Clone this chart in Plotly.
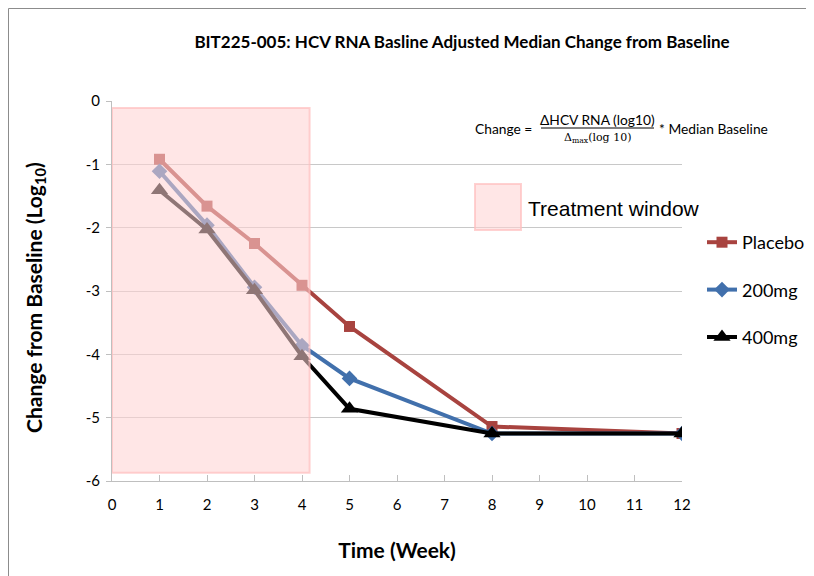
import plotly.graph_objects as go

weeks = [1, 2, 3, 4, 5, 8, 12]
placebo = [-0.92, -1.66, -2.25, -2.91, -3.56, -5.14, -5.25]
mg200 = [-1.11, -1.96, -2.94, -3.86, -4.38, -5.25, -5.25]
mg400 = [-1.41, -2.03, -2.99, -4.03, -4.86, -5.25, -5.25]
series_names = ["Placebo", "200mg", "400mg"]
x_ticks = list(range(0, 13))
y_ticks = [0, -1, -2, -3, -4, -5, -6]
window_x = [0, 4.16]
window_y = [-0.11, -5.87]

FONT = "Lato"


def px(xw):
    return (xw - 112) / 570


def py(yw):
    return (481 - yw) / 380


fig = go.Figure()
styles = [
    ("#A8433F", "square", 11),
    ("#4170AC", "diamond", 12),
    ("#000000", "triangle-up", 15),
]
for name, vals, (col, sym, sz) in zip(series_names, [placebo, mg200, mg400], styles):
    fig.add_trace(go.Scatter(
        x=weeks, y=vals, name=name, mode="lines+markers",
        line=dict(color=col, width=4),
        marker=dict(symbol=sym, size=sz, color=col),
        legendgroup=name,
    ))

# treatment window (drawn over the lines, semi-transparent)
fig.add_shape(type="rect", xref="x", yref="y",
              x0=window_x[0], x1=window_x[1], y0=window_y[0], y1=window_y[1],
              fillcolor="rgba(255,210,210,0.56)", line=dict(color="rgba(255,190,190,0.7)", width=2),
              layer="above")
# legend box for treatment window
fig.add_shape(type="rect", xref="paper", yref="paper",
              x0=px(475), x1=px(521), y0=py(230), y1=py(184),
              fillcolor="rgba(255,210,210,0.56)", line=dict(color="rgba(255,190,190,0.7)", width=2),
              layer="above")
fig.add_annotation(xref="paper", yref="paper", x=px(526), y=py(208),
                   text="Treatment window", showarrow=False, xanchor="left", yanchor="middle",
                   font=dict(family="Liberation Sans", size=21, color="#000"))

# formula
fs = 13.8
fig.add_annotation(xref="paper", yref="paper", x=px(473), y=py(128),
                   text="Change =", showarrow=False, xanchor="left", yanchor="middle",
                   font=dict(family=FONT, size=fs, color="#000"))
fig.add_annotation(xref="paper", yref="paper", x=px(597), y=py(119),
                   text="ΔHCV RNA (log10)", showarrow=False, xanchor="center", yanchor="middle",
                   font=dict(family=FONT, size=fs, color="#000"))
fig.add_shape(type="line", xref="paper", yref="paper",
              x0=px(541), x1=px(654), y0=py(128), y1=py(128),
              line=dict(color="#000", width=1))
fig.add_annotation(xref="paper", yref="paper", x=px(597), y=py(138),
                   text="Δ<sub>max</sub>(log 10)", showarrow=False, xanchor="center", yanchor="middle",
                   font=dict(family="DejaVu Serif", size=11, color="#000"))
fig.add_annotation(xref="paper", yref="paper", x=px(657), y=py(128),
                   text="* Median Baseline", showarrow=False, xanchor="left", yanchor="middle",
                   font=dict(family=FONT, size=fs, color="#000"))

# y axis title
fig.add_annotation(xref="paper", yref="paper", x=px(35), y=py(298),
                   text="Change from Baseline (Log<sub>10</sub>)", showarrow=False, textangle=-90,
                   xanchor="center", yanchor="middle",
                   font=dict(family=FONT, size=21, color="#000", weight="bold"))

# outer border (top and left edges)
fig.add_shape(type="line", xref="paper", yref="paper",
              x0=px(8.5), x1=px(830), y0=py(8.5), y1=py(8.5),
              line=dict(color="#8c8c8c", width=1), layer="below")
fig.add_shape(type="line", xref="paper", yref="paper",
              x0=px(8.5), x1=px(8.5), y0=py(700), y1=py(8.5),
              line=dict(color="#8c8c8c", width=1), layer="below")

fig.update_layout(
    width=814, height=576,
    margin=dict(l=104, r=140, t=93, b=103),
    paper_bgcolor="white", plot_bgcolor="white",
    title=dict(text="<b>BIT225-005: HCV RNA Basline Adjusted Median Change from Baseline</b>",
               x=454 / 814, xanchor="center", y=1 - 34 / 576, yanchor="middle",
               font=dict(family=FONT, size=17, color="#000")),
    showlegend=True,
    legend=dict(x=px(702), y=py(224), xanchor="left", yanchor="top",
                font=dict(family=FONT, size=18, color="#000"),
                tracegroupgap=21, bgcolor="rgba(0,0,0,0)"),
    xaxis=dict(range=[0, 12], tickvals=x_ticks, ticktext=[str(v) for v in x_ticks],
               showgrid=False, zeroline=False, showline=True, linecolor="#bfbfbf", linewidth=1,
               ticks="inside", ticklen=6, tickcolor="#bfbfbf", ticklabelstandoff=10,
               tickfont=dict(family=FONT, size=15, color="#000"),
               title=dict(text="<b>Time (Week)</b>", font=dict(family=FONT, size=21, color="#000"),
                          standoff=31)),
    yaxis=dict(range=[-6, 0], tickvals=y_ticks, ticktext=[str(v) for v in y_ticks],
               showgrid=True, gridcolor="#c8c8c8", gridwidth=1, zeroline=False,
               showline=True, linecolor="#bfbfbf", linewidth=1,
               ticks="outside", ticklen=5, tickcolor="#bfbfbf", ticklabelstandoff=3,
               tickfont=dict(family=FONT, size=15, color="#000")),
)
fig.write_html("out.html")
